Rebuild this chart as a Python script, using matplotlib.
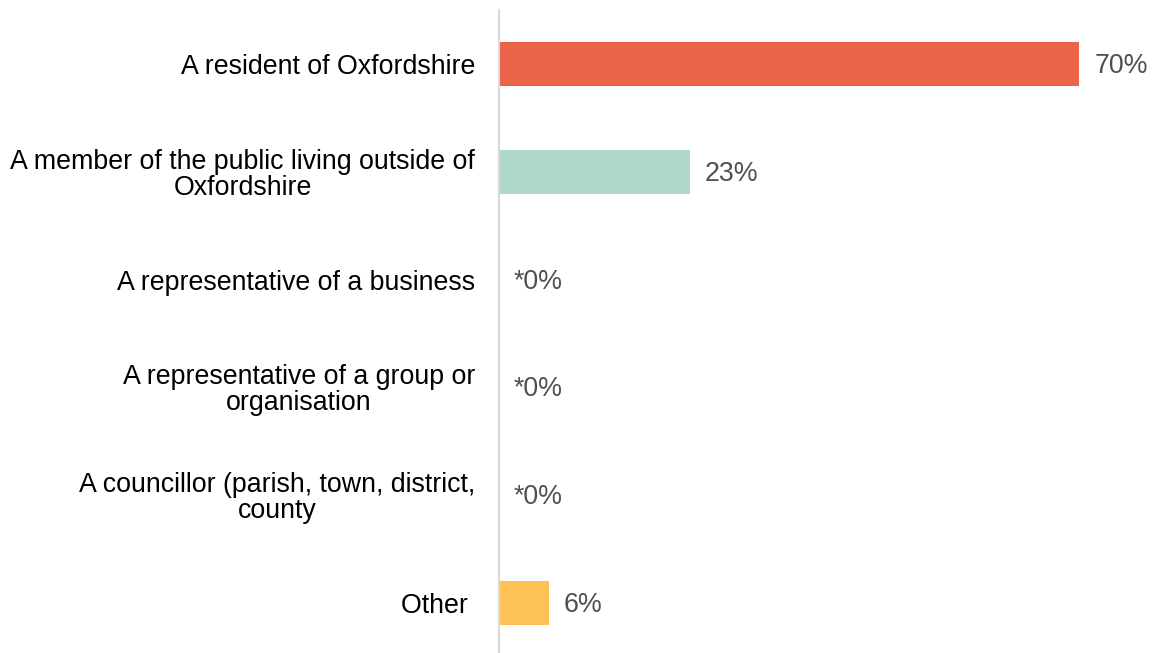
import matplotlib.pyplot as plt

plt.rcParams["font.family"] = ["Liberation Sans", "DejaVu Sans"]

categories = [
    "A resident of Oxfordshire",
    "A member of the public living outside of\nOxfordshire",
    "A representative of a business",
    "A representative of a group or\norganisation",
    "A councillor (parish, town, district,\ncounty",
    "Other ",
]
values = [70, 23, 0, 0, 0, 6]
value_labels = ["70%", "23%", "*0%", "*0%", "*0%", "6%"]
colors = ["#EA6549", "#AED8CA", "#AED8CA", "#AED8CA", "#AED8CA", "#FEC156"]

fig = plt.figure(figsize=(11.54, 6.53), dpi=100)
ax = fig.add_axes([499 / 1154, -4 / 653, 630 / 1154, 647 / 653])

y = list(range(len(categories)))
ax.barh(y, values, height=0.41, color=colors)
ax.set_ylim(5.5, -0.5)
ax.set_xlim(0, 76)

# value labels just right of each bar
for i, (v, lab) in enumerate(zip(values, value_labels)):
    ax.annotate(lab, (v, i), xytext=(15, -2), textcoords="offset pixels",
                ha="left", va="center", fontsize=19.3, color="#505050")

ax.set_yticks(y)
ax.set_yticklabels(categories, fontsize=19.3, color="black",
                   multialignment="center", linespacing=1.0)
ax.tick_params(axis="y", length=0, pad=17.3)
ax.set_xticks([])

for s in ["top", "right", "bottom"]:
    ax.spines[s].set_visible(False)
ax.spines["left"].set_color("#D9D9D9")
ax.spines["left"].set_linewidth(1.5)

fig.savefig("out.png", dpi=100)
